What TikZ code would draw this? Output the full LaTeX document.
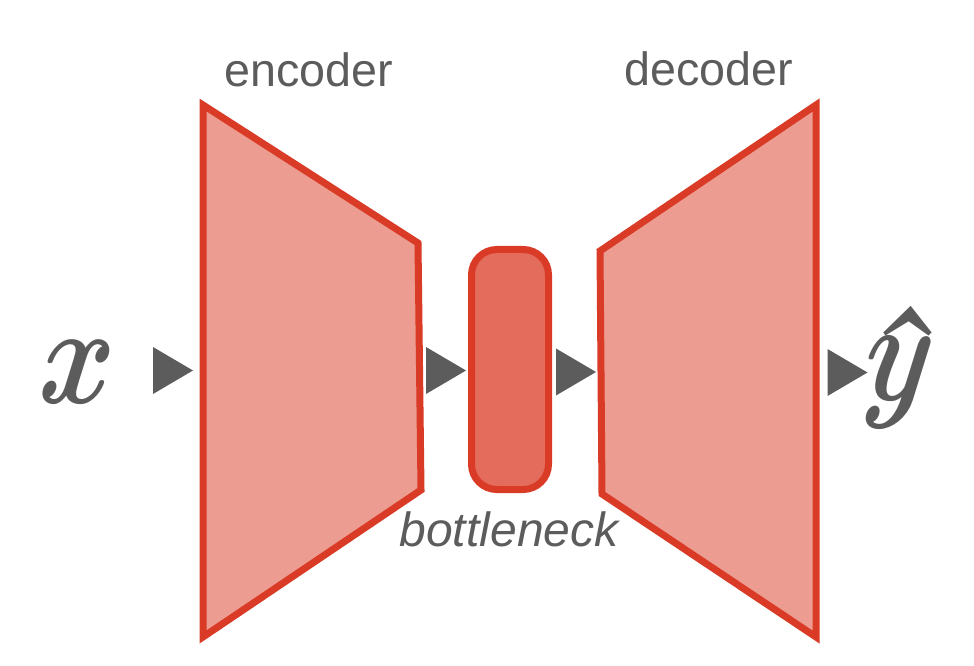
\documentclass[tikz,border=0pt]{standalone}
\usepackage{bm}
\usepackage{fontspec}
\setsansfont{Liberation Sans}
\definecolor{edgered}{HTML}{D93B27}
\definecolor{bodyfill}{HTML}{EC9C90}
\definecolor{neckfill}{HTML}{E46C5C}
\definecolor{inkgray}{HTML}{5C5C5C}
\tikzset{
  block/.style={draw=edgered, fill=bodyfill, line width=5.25pt, line join=miter},
  neckbox/.style={draw=edgered, fill=neckfill, line width=5.25pt, rounded corners=19pt},
  label/.style={text=inkgray, font=\sffamily\fontsize{35}{42}\selectfont, anchor=base, inner sep=0pt},
  mathlabel/.style={text=inkgray, anchor=base, inner sep=0pt, transform shape, xslant=0.12},
  tri/.pic={\fill[inkgray] (-20,-23.5) -- (20,0) -- (-20,23.5) -- cycle;}
}
\begin{document}
\begin{tikzpicture}[x=0.75pt,y=-0.75pt]
\useasboundingbox (0,0) rectangle (974,666);
% encoder
\coordinate (e1) at (203,105);
\coordinate (e2) at (418,243);
\coordinate (e3) at (421,490);
\coordinate (e4) at (203,637);
\draw[block] (e1) -- (e2) -- (e3) -- (e4) -- cycle;
% decoder
\coordinate (d1) at (600,251);
\coordinate (d2) at (816,105);
\coordinate (d3) at (816,637);
\coordinate (d4) at (602,494);
\draw[block] (d1) -- (d2) -- (d3) -- (d4) -- cycle;
% bottleneck
\draw[neckbox] (471.5,249.5) rectangle (548.5,489.5);
% arrowheads
\pic at (173,370.5) {tri};
\pic at (446,370.5) {tri};
\pic at (576,372) {tri};
\pic at (847.5,372.5) {tri};
% labels
\node[label] (enc) at (309,87) {encoder};
\node[label] (dec) at (708.5,86) {decoder};
\node[label, font=\sffamily\itshape\fontsize{36}{42}\selectfont] (neck) at (509,546) {bottleneck};
\node[mathlabel] (xin) at (74,403) {\scalebox{8.2}[10.6]{$\bm{x}$}};
\node[mathlabel] (yout) at (895,401) {\scalebox{8.2}[10.8]{$\bm{y}$\llap{\raisebox{-0.5pt}{\scalebox{1.25}[1]{\bfseries\char"02C6}}\hspace{-0.9pt}}}};
\end{tikzpicture}
\end{document}
